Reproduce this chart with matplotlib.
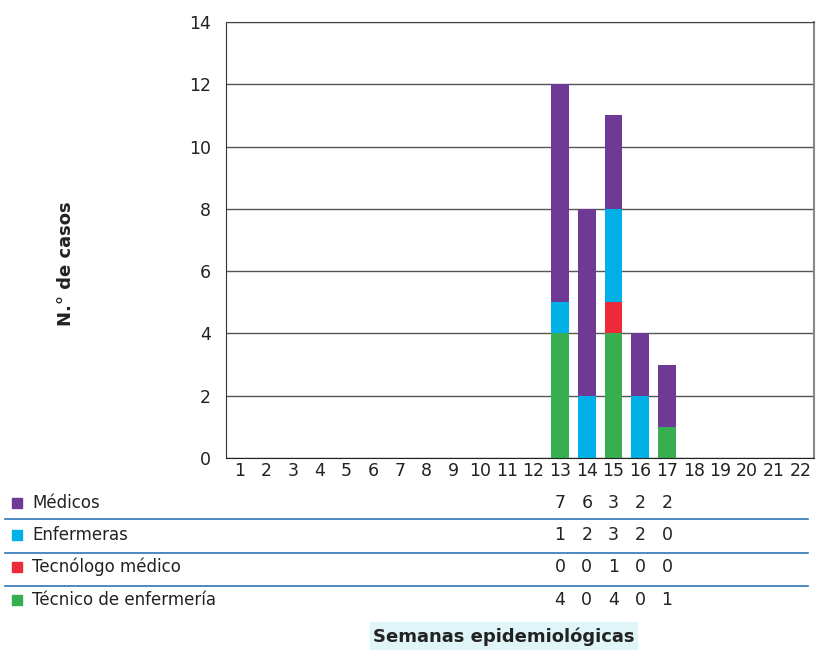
import numpy as np
import matplotlib
matplotlib.use('Agg')
import matplotlib.pyplot as plt
from matplotlib.transforms import blended_transform_factory
from matplotlib.patches import Rectangle

# Data
weeks = list(range(1, 23))
series_names = ['Médicos', 'Enfermeras', 'Tecnólogo médico', 'Técnico de enfermería']
medicos = [0]*12 + [7, 6, 3, 2, 2] + [0]*5
enfermeras = [0]*12 + [1, 2, 3, 2, 0] + [0]*5
tecnologo = [0]*12 + [0, 0, 1, 0, 0] + [0]*5
tecnico = [0]*12 + [4, 0, 4, 0, 1] + [0]*5
colors = {'Médicos': '#6F3996', 'Enfermeras': '#00B0E6',
          'Tecnólogo médico': '#EE2A3A', 'Técnico de enfermería': '#37AE50'}
table_weeks = [13, 14, 15, 16, 17]

plt.rcParams['font.family'] = ['DejaVu Sans']
fig = plt.figure(figsize=(8.18, 6.5), dpi=100)
ax = fig.add_axes([0.2763, 0.2954, 0.7188, 0.6708])

x = np.array(weeks)
# stack bottom to top: técnico, tecnólogo, enfermeras, médicos
stack = [('Técnico de enfermería', tecnico), ('Tecnólogo médico', tecnologo),
         ('Enfermeras', enfermeras), ('Médicos', medicos)]
bottom = np.zeros(len(weeks))
for name, vals in stack:
    v = np.array(vals, dtype=float)
    ax.bar(x, v, bottom=bottom, width=0.67, color=colors[name], zorder=3)
    bottom += v

ax.set_xlim(0.5, 22.5)
ax.set_ylim(0, 14)
ax.set_yticks(range(0, 15, 2))
ax.set_xticks(weeks)
ax.tick_params(axis='both', length=0, labelsize=12.5, colors='#222222')
ax.tick_params(axis='x', pad=3)
ax.tick_params(axis='y', pad=11)
ax.yaxis.grid(True, color='#555555', lw=1, zorder=0)
ax.spines['left'].set_color('#333333')
ax.spines['top'].set_color('#444444')
ax.spines['right'].set_color('#888888')
ax.spines['right'].set_linewidth(1.5)
ax.spines['bottom'].set_color('#222222')
for s in ax.spines.values():
    s.set_zorder(4)

fig.text(0.081, 0.595, 'N.° de casos', rotation=90, ha='center', va='center',
         fontsize=13, fontweight='bold', color='#222222')

# table below chart
tr = blended_transform_factory(ax.transData, fig.transFigure)
row_y = [0.226, 0.177, 0.128, 0.077]
data_rows = [medicos, enfermeras, tecnologo, tecnico]
for name, vals, yy in zip(series_names, data_rows, row_y):
    fig.patches.append(Rectangle((0.0147, yy - 0.0075), 0.0122, 0.0154,
                                 transform=fig.transFigure, color=colors[name]))
    fig.text(0.039, yy, name, ha='left', va='center', fontsize=12, color='#222222')
    for w in table_weeks:
        ax.text(w, yy, str(vals[w - 1]), transform=tr, ha='center', va='center',
                fontsize=12.5, color='#222222')
for ly in [0.2015, 0.149, 0.0985]:
    fig.add_artist(plt.Line2D([0.006, 0.988], [ly, ly], transform=fig.transFigure,
                              color='#2E75B6', lw=1.2))

# x axis title
fig.patches.append(Rectangle((0.452, 0.0), 0.327, 0.043, transform=fig.transFigure,
                             color='#E0F5F7'))
fig.text(0.6155, 0.021, 'Semanas epidemiológicas', ha='center', va='center',
         fontsize=13, fontweight='bold', color='#222222')

fig.savefig('out.png', dpi=100)
